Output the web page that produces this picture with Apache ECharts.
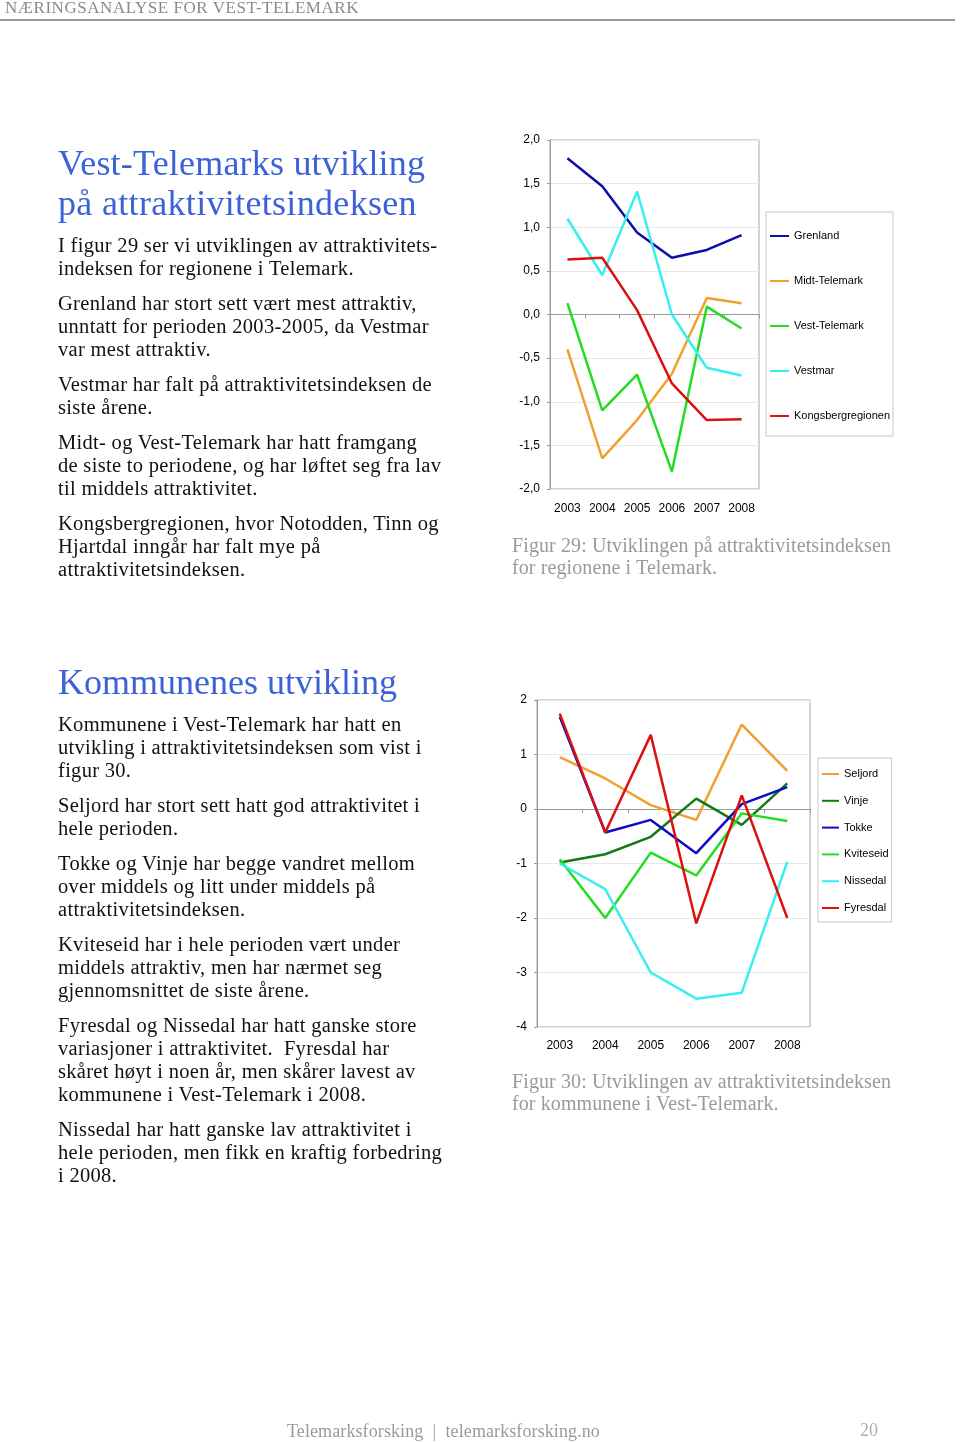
<!DOCTYPE html>
<html><head><meta charset="utf-8">
<script src="https://cdn.jsdelivr.net/npm/echarts@6/dist/echarts.min.js"></script>
<style>
body{margin:0;background:#fff;}
#page{position:relative;width:960px;height:1442px;overflow:hidden;background:#fff;}
#chart{position:absolute;left:0;top:0;width:960px;height:1442px;}
.t{position:absolute;white-space:pre;font-family:'Liberation Serif','Times New Roman',serif;line-height:24px;color:#111;}
#rule{position:absolute;left:0;top:19px;width:955px;height:2px;background:#9a9a9a;}
</style></head>
<body><div id="page"><div id="chart"></div><div id="rule"></div></div>
<script>
// ---- Figure 29 data ----
const years = ['2003','2004','2005','2006','2007','2008'];
const grenland      = [1.79, 1.47, 0.94, 0.65, 0.74, 0.91];
const midtTelemark  = [-0.40, -1.65, -1.21, -0.68, 0.19, 0.13];
const vestTelemark  = [0.13, -1.10, -0.69, -1.80, 0.09, -0.16];
const vestmar       = [1.10, 0.45, 1.41, 0.00, -0.61, -0.70];
const kongsberg     = [0.63, 0.65, 0.05, -0.79, -1.21, -1.20];
const regionNames   = ['Grenland','Midt-Telemark','Vest-Telemark','Vestmar','Kongsbergregionen'];

// ---- Figure 30 data ----
const seljord   = [0.95, 0.56, 0.07, -0.20, 1.55, 0.70];
const vinje     = [-0.98, -0.83, -0.51, 0.19, -0.29, 0.47];
const tokke     = [1.69, -0.43, -0.20, -0.81, 0.09, 0.40];
const kviteseid = [-0.92, -2.00, -0.80, -1.22, -0.08, -0.22];
const nissedal  = [-1.00, -1.47, -3.00, -3.48, -3.37, -0.97];
const fyresdal  = [1.75, -0.43, 1.36, -2.10, 0.25, -2.00];
const kommuneNames = ['Seljord','Vinje','Tokke','Kviteseid','Nissedal','Fyresdal'];

// ---- page texts ----
const headerText = 'NÆRINGSANALYSE FOR VEST-TELEMARK';
const heading1 = ['Vest-Telemarks utvikling','på attraktivitetsindeksen'];
const body1 = [
 ['I figur 29 ser vi utviklingen av attraktivitets-',245],
 ['indeksen for regionene i Telemark.',268],
 ['Grenland har stort sett vært mest attraktiv,',303],
 ['unntatt for perioden 2003-2005, da Vestmar',326],
 ['var mest attraktiv.',349],
 ['Vestmar har falt på attraktivitetsindeksen de',384],
 ['siste årene.',407],
 ['Midt- og Vest-Telemark har hatt framgang',442],
 ['de siste to periodene, og har løftet seg fra lav',465],
 ['til middels attraktivitet.',488],
 ['Kongsbergregionen, hvor Notodden, Tinn og',523],
 ['Hjartdal inngår har falt mye på',546],
 ['attraktivitetsindeksen.',569]
];
const heading2 = 'Kommunenes utvikling';
const body2 = [
 ['Kommunene i Vest-Telemark har hatt en',724],
 ['utvikling i attraktivitetsindeksen som vist i',747],
 ['figur 30.',770],
 ['Seljord har stort sett hatt god attraktivitet i',805],
 ['hele perioden.',828],
 ['Tokke og Vinje har begge vandret mellom',863],
 ['over middels og litt under middels på',886],
 ['attraktivitetsindeksen.',909],
 ['Kviteseid har i hele perioden vært under',944],
 ['middels attraktiv, men har nærmet seg',967],
 ['gjennomsnittet de siste årene.',990],
 ['Fyresdal og Nissedal har hatt ganske store',1025],
 ['variasjoner i attraktivitet.  Fyresdal har',1048],
 ['skåret høyt i noen år, men skårer lavest av',1071],
 ['kommunene i Vest-Telemark i 2008.',1094],
 ['Nissedal har hatt ganske lav attraktivitet i',1129],
 ['hele perioden, men fikk en kraftig forbedring',1152],
 ['i 2008.',1175]
];
const caption1 = [['Figur 29: Utviklingen på attraktivitetsindeksen',545],['for regionene i Telemark.',567]];
const caption2 = [['Figur 30: Utviklingen av attraktivitetsindeksen',1081],['for kommunene i Vest-Telemark.',1103]];
const footerText = 'Telemarksforsking  |  telemarksforsking.no';
const pageNo = '20';

const page = document.getElementById('page');
function addLine(text, x, yc, size, color, lh, ls){
  const d = document.createElement('div');
  d.className = 't';
  d.textContent = text;
  d.style.left = x + 'px';
  d.style.top = (yc - lh/2) + 'px';
  d.style.fontSize = size + 'px';
  d.style.lineHeight = lh + 'px';
  d.style.letterSpacing = (ls || 0) + 'px';
  d.style.color = color;
  page.appendChild(d);
}
addLine(headerText, 5, 8, 17, '#8a8a8a', 20, 0.55);
const blue = '#3b62d6';
addLine(heading1[0], 58, 163, 36, blue, 40, 0.2);
addLine(heading1[1], 58, 203, 36, blue, 40, 0.32);
body1.forEach(l => addLine(l[0], 58, l[1], 20.5, '#111', 24, 0.3));
addLine(heading2, 58, 682, 36, blue, 40, 0);
body2.forEach(l => addLine(l[0], 58, l[1], 20.5, '#111', 24, 0.3));
caption1.forEach(l => addLine(l[0], 512, l[1], 20, '#9a9a9a', 24, 0.1));
caption2.forEach(l => addLine(l[0], 512, l[1], 20, '#9a9a9a', 24, 0.1));
addLine(footerText, 287, 1431, 18, '#9a9a9a', 20, 0.1);
addLine(pageNo, 860, 1430, 18, '#b0b0b0', 20, 0);

// ---- chart ----
const sans = 'Liberation Sans, Arial, sans-serif';
const gray = '#9a9a9a';
const lbl = {fontFamily: sans, fontSize: 12, color: '#000'};
function xAxes(gi, margin){
  return [
    {gridIndex: gi, type:'category', data: years, position:'bottom',
     axisLine:{show:true, onZero:true, lineStyle:{color:gray, width:1}},
     axisTick:{show:true, length:4, lineStyle:{color:gray}},
     axisLabel:{show:false}, splitLine:{show:false}},
    {gridIndex: gi, type:'category', data: years, position:'bottom',
     axisLine:{show:false, onZero:false}, axisTick:{show:false},
     axisLabel:Object.assign({margin: margin}, lbl), splitLine:{show:false}}
  ];
}
const chart = echarts.init(document.getElementById('chart'), null, {renderer:'canvas'});
const colors1 = ['#0c0cb0','#f0a030','#22dd22','#38eeee','#dd1010'];
const data1 = [grenland, midtTelemark, vestTelemark, vestmar, kongsberg];
const colors2 = ['#f0a030','#127a12','#0c0cc8','#22dd22','#38eeee','#dd1010'];
const data2 = [seljord, vinje, tokke, kviteseid, nissedal, fyresdal];
const series = [];
regionNames.forEach((n,i)=>series.push({name:n, type:'line', xAxisIndex:0, yAxisIndex:0, data:data1[i],
  symbol:'none', lineStyle:{width:2.5, color:colors1[i]}, itemStyle:{color:colors1[i]}}));
kommuneNames.forEach((n,i)=>series.push({name:n, type:'line', xAxisIndex:2, yAxisIndex:1, data:data2[i],
  symbol:'none', lineStyle:{width:2.5, color:colors2[i]}, itemStyle:{color:colors2[i]}}));

const legendCommon = {orient:'vertical', icon:'rect', itemHeight:2, backgroundColor:'#fff',
  borderColor:'#c8c8c8', borderWidth:1, selectedMode:false,
  textStyle:{fontFamily:sans, fontSize:11, color:'#000', lineHeight:14}};

chart.setOption({
  animation:false,
  grid:[
    {left:550, top:140, width:209, height:349, show:true, borderColor:'#a8a8a8', borderWidth:1, containLabel:false},
    {left:537, top:700, width:273, height:327, show:true, borderColor:'#a8a8a8', borderWidth:1, containLabel:false}
  ],
  xAxis: xAxes(0, 14).concat(xAxes(1, 13)),
  yAxis:[
    {gridIndex:0, type:'value', min:-2, max:2, interval:0.5,
     axisLine:{show:true, lineStyle:{color:gray}}, axisTick:{show:true, length:3, lineStyle:{color:gray}},
     splitLine:{show:true, lineStyle:{color:'#e8e8e8'}},
     axisLabel:Object.assign({margin:10, formatter:v=>v.toFixed(1).replace('.',',')}, lbl)},
    {gridIndex:1, type:'value', min:-4, max:2, interval:1,
     axisLine:{show:true, lineStyle:{color:gray}}, axisTick:{show:true, length:3, lineStyle:{color:gray}},
     splitLine:{show:true, lineStyle:{color:'#e8e8e8'}},
     axisLabel:Object.assign({margin:10, formatter:v=>String(v)}, lbl)}
  ],
  legend:[
    Object.assign({data:regionNames, left:766, top:212, itemWidth:19, itemGap:31, padding:[17,3,13,4]}, legendCommon),
    Object.assign({data:kommuneNames, left:818, top:758, itemWidth:17, itemGap:12.8, padding:[9,3,7,4]}, legendCommon)
  ],
  series: series
});
</script>
</body></html>
